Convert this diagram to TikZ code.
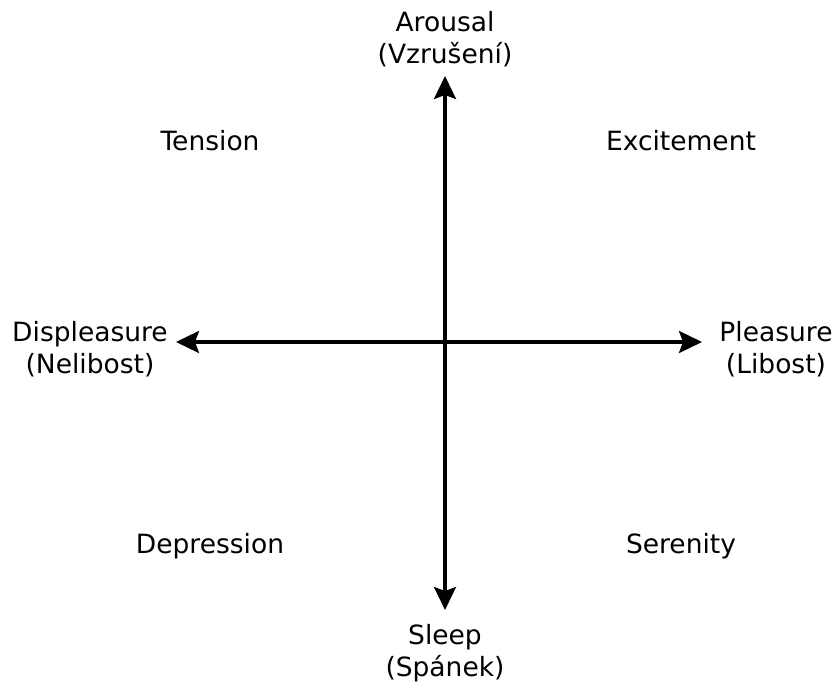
\documentclass[tikz,border=0pt]{standalone}
\usepackage{fontspec}
\setmainfont{DejaVu Sans}
\usetikzlibrary{arrows.meta}
\begin{document}
\begin{tikzpicture}[x=1pt,y=-1pt,
  lbl/.style={font=\fontsize{26.5}{31.5}\selectfont, align=center, inner sep=0pt},
  axis/.style={line width=3.2pt, -{Stealth[length=23pt,width=22pt,inset=4pt]}}]
\useasboundingbox (0,0) rectangle (835,684);
\coordinate (c) at (445,342);
\coordinate (top) at (445,76);
\coordinate (bot) at (445,610);
\coordinate (lft) at (176,342);
\coordinate (rgt) at (702,342);
\draw[axis] (c) -- (top);
\draw[axis] (c) -- (bot);
\draw[axis] (c) -- (lft);
\draw[axis] (c) -- (rgt);
\node[lbl] (arousal) at (445,39) {Arousal\\(Vzrušení)};
\node[lbl] (sleep) at (445,653) {Sleep\\(Spánek)};
\node[lbl] (displ) at (90,349) {Displeasure\\(Nelibost)};
\node[lbl] (pleas) at (776,349) {Pleasure\\(Libost)};
\node[lbl] (tension) at (210,141) {Tension};
\node[lbl] (excite) at (681,141) {Excitement};
\node[lbl] (depr) at (210,546) {Depression};
\node[lbl] (seren) at (681,546) {Serenity};
\end{tikzpicture}
\end{document}
